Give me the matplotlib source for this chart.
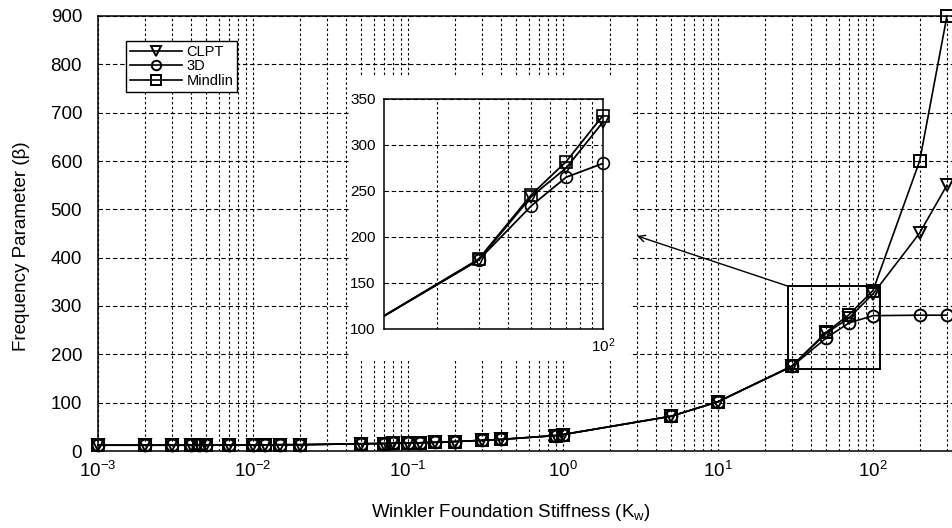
import numpy as np
import matplotlib
matplotlib.use("Agg")
import matplotlib.pyplot as plt
from matplotlib.ticker import LogLocator, FixedLocator, FuncFormatter, NullFormatter
from matplotlib.patches import Rectangle

plt.rcParams['font.family'] = ['Liberation Sans', 'DejaVu Sans']
plt.rcParams['mathtext.fontset'] = 'custom'
plt.rcParams['mathtext.rm'] = 'Liberation Sans'
plt.rcParams['mathtext.it'] = 'Liberation Sans:italic'
plt.rcParams['mathtext.default'] = 'regular'

# ---------------- data ----------------
kw = [0.001, 0.002, 0.003, 0.004, 0.0045, 0.005, 0.007, 0.01, 0.012, 0.015, 0.02,
      0.05, 0.07, 0.08, 0.1, 0.12, 0.15, 0.2, 0.3, 0.4, 0.9, 1.0, 5, 10,
      30, 50, 70, 100, 200, 300]
low = [12, 12, 12, 12, 12, 12, 12.5, 12.5, 12.5, 13, 13,
       15, 15.5, 16, 16.5, 17, 18, 19.5, 22, 24, 32, 34, 72, 102]
clpt = low + [175, 244, 275, 325, 451, 550]
d3 = low + [175, 234, 265, 280, 281, 281]
mindlin = low + [176, 246, 282, 332, 600, 900]

series_names = ['CLPT', '3D', 'Mindlin']
series_vals = [clpt, d3, mindlin]
series_markers = ['v', 'o', 's']

x_decades = [1e-3, 1e-2, 1e-1, 1e0, 1e1, 1e2]
y_ticks = [0, 100, 200, 300, 400, 500, 600, 700, 800, 900]
inset_y_ticks = [100, 150, 200, 250, 300, 350]
inset_xlim = (12, 100)
inset_ylim = (100, 350)

# zoom box & arrow (data coordinates)
box_x = (28.3, 111)
box_y = (170, 341)
arrow_tip = (3.0, 445)

W, H = 952, 528
fig = plt.figure(figsize=(W / 100, H / 100), dpi=100)

log_fmt = FuncFormatter(lambda v, p: r'$10^{%d}$' % int(round(np.log10(v))))

# main axes (right part extends beyond the image, as in the reference)
ax = fig.add_axes([98 / W, 77 / H, 930 / W, 435 / H])
ax.set_xscale('log')
ax.set_xlim(1e-3, 1e3)
ax.set_ylim(0, 900)
ax.set_yticks(y_ticks)
ax.xaxis.set_major_locator(FixedLocator(x_decades))
ax.xaxis.set_minor_locator(LogLocator(base=10, subs=np.arange(2, 10), numticks=20))
ax.xaxis.set_minor_formatter(NullFormatter())
ax.xaxis.set_major_formatter(log_fmt)
ax.tick_params(axis='both', which='both', length=0, labelsize=13.5)
ax.tick_params(axis='y', pad=11.5)
ax.tick_params(axis='x', pad=7)
ax.grid(True, axis='x', which='both', color='black', linestyle=(0, (2.2, 2.2)), linewidth=0.8)
ax.grid(True, axis='y', which='major', color='black', linestyle=(0, (4, 2.5)), linewidth=0.8)
for s in ax.spines.values():
    s.set_linewidth(1.1)

handles = []
for name, vals, mk in zip(series_names, series_vals, series_markers):
    h, = ax.plot(kw, vals, color='black', linewidth=1.2, marker=mk, markersize=8.5,
                 markerfacecolor='none', markeredgecolor='black', markeredgewidth=1.4,
                 label=name, clip_on=False, zorder=3)
    handles.append(h)

ax.set_xlabel(r'Winkler Foundation Stiffness (K$_w$)', fontsize=13.5)
ax.xaxis.set_label_coords(0.444, -0.118)
ax.set_ylabel(r'Frequency Parameter (β)', fontsize=13.5)
ax.yaxis.set_label_coords(-0.073, 0.47)

leg = ax.legend(handles=handles, loc='upper left', bbox_to_anchor=(0.030, 0.9425),
                borderaxespad=0, fontsize=10.5, frameon=True, fancybox=False,
                edgecolor='black', framealpha=1, labelspacing=0.05, borderpad=0.25,
                handlelength=3.6, handletextpad=0.3, markerscale=0.8)
leg.get_frame().set_linewidth(1.0)
leg.set_zorder(5)

# zoom rectangle
ax.add_patch(Rectangle((box_x[0], box_y[0]), box_x[1] - box_x[0], box_y[1] - box_y[0],
                       fill=False, edgecolor='black', linewidth=1.4, zorder=4))
ax.annotate('', xy=arrow_tip, xytext=(box_x[0], box_y[1]),
            arrowprops=dict(arrowstyle='->', color='black', linewidth=1.0,
                            mutation_scale=12, shrinkA=0, shrinkB=0), zorder=4)

# white background behind inset (covers main gridlines)
fig.add_artist(Rectangle((350 / W, (H - 360) / H), 280 / W, 283 / H,
                         transform=fig.transFigure, facecolor='white',
                         edgecolor='none', zorder=1))

# inset axes
ins = fig.add_axes([384 / W, (H - 329) / H, 219 / W, 230 / H])
ins.set_zorder(2)
ins.set_xscale('log')
ins.xaxis.set_major_locator(FixedLocator([100]))
ins.xaxis.set_minor_locator(LogLocator(base=10, subs=np.arange(2, 10), numticks=20))
ins.xaxis.set_minor_formatter(NullFormatter())
ins.xaxis.set_major_formatter(log_fmt)
ins.tick_params(axis='both', which='both', length=0, labelsize=11)
ins.tick_params(axis='y', pad=6)
ins.tick_params(axis='x', pad=5)
ins.grid(True, axis='x', which='both', color='black', linestyle=(0, (2.2, 2.2)), linewidth=0.8)
ins.grid(True, axis='y', which='major', color='black', linestyle=(0, (4, 2.5)), linewidth=0.8)
for s in ins.spines.values():
    s.set_linewidth(1.1)
in_range = [inset_xlim[0] <= k <= inset_xlim[1] for k in kw]
for name, vals, mk in zip(series_names, series_vals, series_markers):
    ins.plot(kw, vals, color='black', linewidth=1.3, zorder=3)
    ins.plot(kw, vals, linestyle='none', marker=mk, markersize=8.5, markevery=in_range,
             markerfacecolor='none', markeredgecolor='black', markeredgewidth=1.2,
             clip_on=False, zorder=3)
ins.set_xlim(*inset_xlim)
ins.set_ylim(*inset_ylim)
ins.set_yticks(inset_y_ticks)

fig.savefig('out.png', dpi=100)
